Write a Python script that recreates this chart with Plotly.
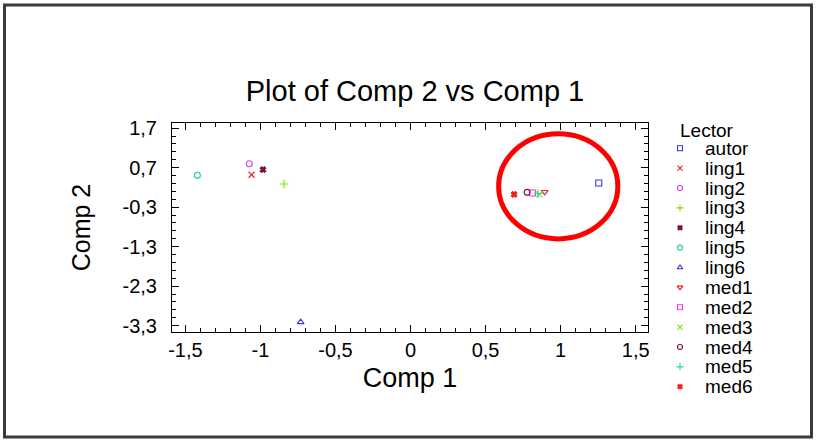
import plotly.graph_objects as go

# ---------------- data ----------------
lectors = ["autor", "ling1", "ling2", "ling3", "ling4", "ling5", "ling6",
           "med1", "med2", "med3", "med4", "med5", "med6"]
comp1 = [1.254, -1.059, -1.074, -0.843, -0.983, -1.420, -0.732,
         0.894, 0.812, 0.857, 0.777, 0.850, 0.690]
comp2 = [0.313, 0.520, 0.800, 0.287, 0.650, 0.505, -3.210,
         0.085, 0.060, 0.024, 0.075, 0.040, 0.024]
colors = ["#3434e0", "#f02020", "#e040e0", "#80e000", "#801040", "#20d0b0", "#3434e0",
          "#f02020", "#e040e0", "#80e000", "#801040", "#20d0b0", "#f02020"]
symbols = ["square-open", "x-thin-open", "circle-open", "cross-thin-open", "x",
           "circle-open", "triangle-up-open", "triangle-down-open", "square-open",
           "x-thin-open", "circle-open", "cross-thin-open", "x"]

x_tickvals = [-1.5, -1.0, -0.5, 0.0, 0.5, 1.0, 1.5]
x_ticktext = ["-1,5", "-1", "-0,5", "0", "0,5", "1", "1,5"]
y_tickvals = [1.7, 0.7, -0.3, -1.3, -2.3, -3.3]
y_ticktext = ["1,7", "0,7", "-0,3", "-1,3", "-2,3", "-3,3"]

title_text = "Plot of Comp 2 vs Comp 1"
x_title = "Comp 1"
y_title = "Comp 2"
legend_title = "Lector"

# ---------------- layout geometry ----------------
W, H = 819, 446
ML, MR, MT, MB = 172, 30, 110, 50
PW, PH = W - ML - MR, H - MT - MB


def px(xp):
    return (xp - ML) / PW


def py(yp):
    return (H - MB - yp) / PH


FONT = "Liberation Sans, Arial, sans-serif"
fig = go.Figure()

for name, a, b, c, s in zip(lectors, comp1, comp2, colors, symbols):
    filled = not s.endswith("open")
    fig.add_trace(go.Scatter(
        x=[a], y=[b], mode="markers", name=name, showlegend=False,
        marker=dict(symbol=s, size=6 if not filled else 5, color=c,
                    line=dict(color=c, width=1.1)),
        xaxis="x", yaxis="y"))

# hand-built legend (overlay axis)
row0, rowgap = 148.3, 19.87
for i, (name, c, s) in enumerate(zip(lectors, colors, symbols)):
    filled = not s.endswith("open")
    fig.add_trace(go.Scatter(
        x=[10], y=[i], mode="markers", showlegend=False, hoverinfo="skip",
        marker=dict(symbol=s, size=5 if not filled else 4, color=c,
                    line=dict(color=c, width=1.1)),
        xaxis="x2", yaxis="y2"))
    fig.add_annotation(x=33, y=i, xref="x2", yref="y2", text=name,
                       showarrow=False, xanchor="left", yanchor="middle",
                       font=dict(family=FONT, size=19, color="black"))
fig.add_annotation(x=8, y=-0.92, xref="x2", yref="y2", text=legend_title,
                   showarrow=False, xanchor="left", yanchor="middle",
                   font=dict(family=FONT, size=19, color="black"))

axis_common = dict(showline=True, linecolor="black", linewidth=1, mirror="ticks",
                   ticks="inside", ticklen=7, tickwidth=1, tickcolor="black",
                   showgrid=False, zeroline=False,
                   tickfont=dict(family=FONT, size=20, color="black"))

fig.update_layout(
    width=W, height=H,
    margin=dict(l=ML, r=MR, t=MT, b=MB, pad=0),
    paper_bgcolor="white", plot_bgcolor="white",
    title=dict(text=title_text, x=415 / W, y=1 - 91 / H, xref="container",
               yref="container", xanchor="center", yanchor="middle",
               font=dict(family=FONT, size=29, color="black")),
    xaxis=dict(domain=[0, px(648)], range=[-1.589, 1.582],
               tickmode="array", tickvals=x_tickvals, ticktext=x_ticktext,
               minor=dict(tickmode="linear", tick0=0, dtick=0.1, ticks="inside",
                          ticklen=4, tickcolor="black"),
               title=dict(text=x_title, standoff=8,
                          font=dict(family=FONT, size=27, color="black")),
               anchor="y", **axis_common),
    yaxis=dict(domain=[py(332), py(123)], range=[-3.46, 1.83],
               tickmode="array", tickvals=y_tickvals, ticktext=y_ticktext,
               minor=dict(tickmode="linear", tick0=1.7, dtick=0.2, ticks="inside",
                          ticklen=4, tickcolor="black"),
               ticklabelstandoff=10,
               title=dict(text=y_title, standoff=24,
                          font=dict(family=FONT, size=25, color="black")),
               anchor="x", **axis_common),
    xaxis2=dict(domain=[px(670), 1], range=[0, W - 670 - MR], visible=False,
                anchor="y2", fixedrange=True),
    yaxis2=dict(domain=[0, 1],
                range=[(H - MB - row0) / rowgap, -(row0 - MT) / rowgap],
                visible=False, anchor="x2", fixedrange=True),
    shapes=[
        dict(type="circle", xref="x", yref="y", x0=0.587, x1=1.381,
             y0=-1.103, y1=1.556, line=dict(color="#ff0000", width=5)),
        dict(type="rect", xref="paper", yref="paper", x0=px(4.5), x1=px(811.5),
             y0=py(437), y1=py(5), line=dict(color="#3a3a3a", width=3),
             layer="above"),
    ],
)

fig.write_html("out.html")
